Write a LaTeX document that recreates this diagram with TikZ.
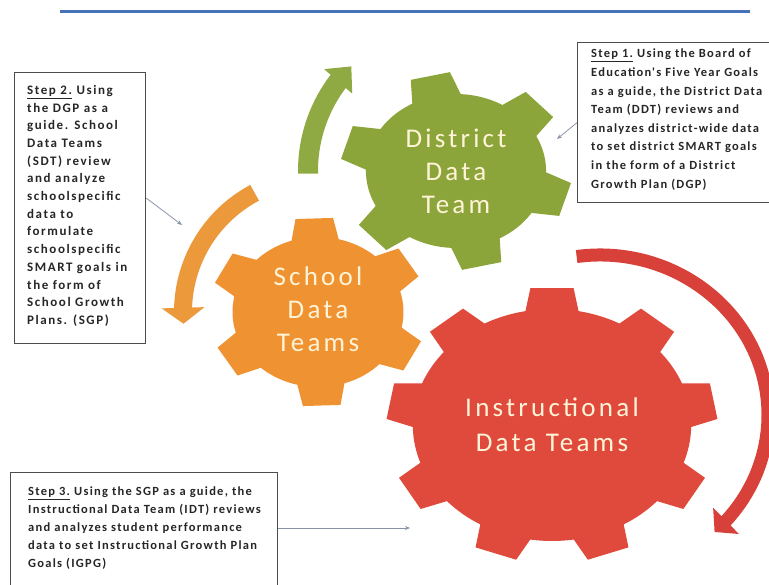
\documentclass[tikz,border=0pt]{standalone}
\usepackage{fontspec}
\setmainfont{Carlito}
\newfontfamily\gearfont[LetterSpace=12]{Carlito}
\newfontfamily\boxfont[LetterSpace=10]{Carlito}
\newfontfamily\wideboxfont[LetterSpace=12]{Carlito}
\usetikzlibrary{arrows.meta, bending, positioning}

\definecolor{gearred}{HTML}{E04A3C}
\definecolor{turnred}{HTML}{D8413A}
\definecolor{gearorange}{HTML}{EF9232}
\definecolor{turnorange}{HTML}{EC993C}
\definecolor{geargreen}{HTML}{8CA53A}
\definecolor{turngreen}{HTML}{8FAA42}
\definecolor{gearcream}{HTML}{FFF4D8}
\definecolor{pointgray}{HTML}{8A94A8}
\definecolor{rulerblue}{HTML}{4872B8}

% teeth, inner radius, outer radius, first tooth, half angle at root, half angle at tip
\newcommand{\gearpath}[6]{({#4-180/#1}:#2)
  \foreach \k [evaluate=\k as \tang using #4+360/#1*(\k-1)] in {1,...,#1}{
    arc[start angle=\tang-180/#1, end angle=\tang-#5, radius=#2]
    -- ({\tang-#6}:#3) -- ({\tang+#6}:#3) -- ({\tang+#5}:#2)
    arc[start angle=\tang+#5, end angle=\tang+180/#1, radius=#2]
  } -- cycle}

\begin{document}
\begin{tikzpicture}[
    x=1pt, y=1pt,
    stepbox/.style={draw=black!70, line width=1.3pt, anchor=north west, inner sep=0pt},
    steptext/.style={anchor=north west, align=left, inner sep=0pt, text=black!85,
      font=\boxfont\bfseries\fontsize{12.5}{18}\selectfont},
    geartext/.style={align=center, text=gearcream, font=\gearfont\fontsize{27}{33}\selectfont},
    pointer/.style={-{Stealth[length=5pt, width=4pt]}, draw=pointgray, line width=0.8pt}
  ]
  \useasboundingbox (0,0) rectangle (769,585);
  \clip (0,0) rectangle (769,585);

  % top rule
  \draw[rulerblue, line width=3pt] (60,573) -- (750,573);

  % gear centres
  \coordinate (cr) at (552,160);
  \coordinate (co) at (318,273);
  \coordinate (cd) at (456,414);
  \coordinate (cturn) at (600,170);

  % gears
  \fill[gearred, shift={(cr)}, xscale=1.2] \gearpath{9}{116}{138}{90}{11}{7.5};
  \fill[gearorange, shift={(co)}, xscale=1.14] \gearpath{6}{75}{95}{92}{16}{10};
  \fill[geargreen, shift={(cd)}, xscale=1.17] \gearpath{6}{77}{99}{103}{16}{10};

  \node[geartext, font=\gearfont\fontsize{27}{35}\selectfont] (instr) at (cr) {Instructional\\Data Teams};
  \node[geartext, yshift=3pt] (school) at (co) {School\\Data\\Teams};
  \node[geartext] (district) at (cd) {District\\Data\\Team};

  % turning arrows
  \draw[turngreen, line width=20pt, -{Triangle[width=36pt, length=20pt]}]
    ([shift={(181:148)}]cd) arc[start angle=181, end angle=135, radius=148];
  \draw[turnorange, line width=18pt, -{Triangle[width=42pt, length=16pt]}]
    ([shift={(118:135)}]co) arc[start angle=118, end angle=185, radius=135];
  \draw[turnred, line width=13pt, -{Triangle[width=36pt, length=16pt]}]
    ([shift={(98:168 and 160)}]cturn) arc[start angle=98, end angle=-47, x radius=168, y radius=160];

  % step boxes
  \node[stepbox, minimum width=200pt, minimum height=160pt] (box1) at (577,543) {};
  \node[steptext, font=\boxfont\bfseries\fontsize{12.5}{18.6}\selectfont] (step1) at (591,536)
    {\underline{Step 1.} Using the Board of\\
    Education's Five Year Goals\\as a guide, the District Data\\Team (DDT) reviews and\\
    analyzes district-wide data\\to set district SMART goals\\in the form of a District\\
    Growth Plan (DGP)};

  \node[stepbox, minimum width=131pt, minimum height=271pt] (box2) at (14,513) {};
  \node[steptext, font=\wideboxfont\bfseries\fontsize{13}{17.7}\selectfont] (step2) at (27,500)
    {\underline{Step 2.} Using\\the DGP as a\\guide. School\\Data Teams\\(SDT) review\\
    and analyze\\schoolspecific\\data to\\formulate\\schoolspecific\\SMART goals in\\
    the form of\\School Growth\\Plans. (SGP)};

  \node[stepbox, minimum width=267pt, minimum height=140pt] (box3) at (10,113) {};
  \node[steptext] (step3) at (28,98) {\underline{Step 3.} Using the SGP as a guide, the\\
    Instructional Data Team (IDT) reviews\\and analyzes student performance\\
    data to set Instructional Growth Plan\\Goals (IGPG)};

  % pointers
  \coordinate (p1) at (557,446);
  \coordinate (p2) at (182,360);
  \coordinate (p3) at (410,57);
  \draw[pointer] (box1.west) -- (p1);
  \draw[pointer] ([yshift=10pt]box2.east) -- (p2);
  \draw[pointer] (box3.east |- p3) -- (p3);
\end{tikzpicture}
\end{document}
